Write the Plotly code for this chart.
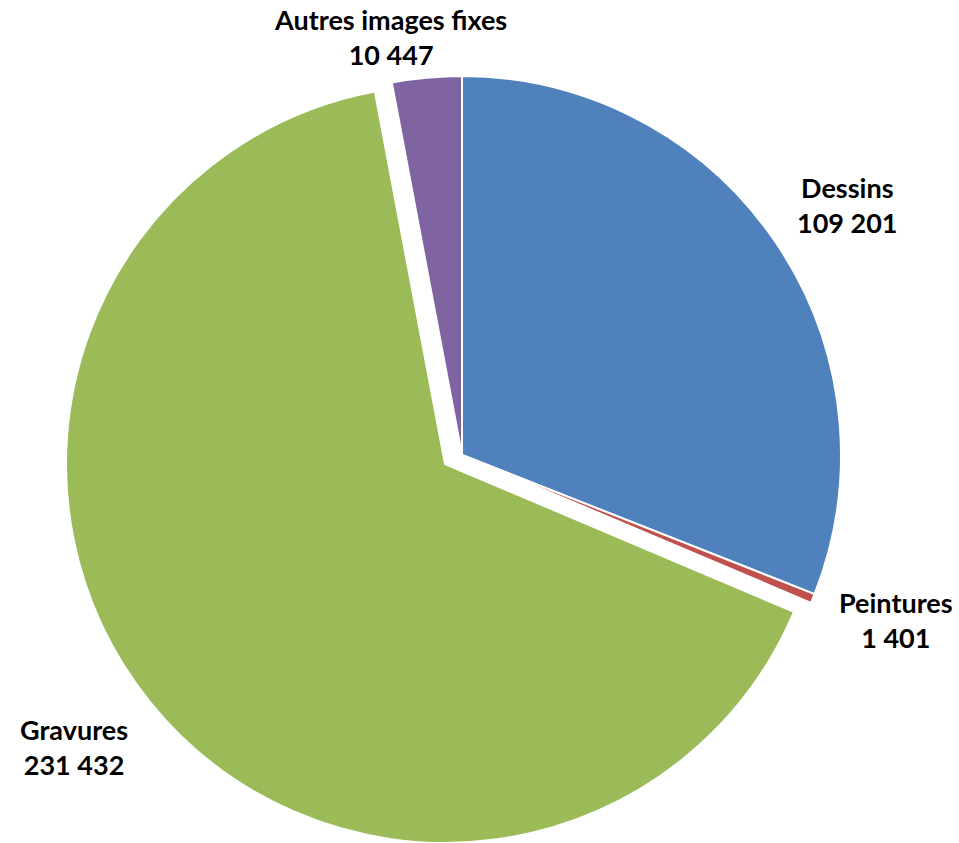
import plotly.graph_objects as go

# ---- data ----
categories = ["Dessins", "Peintures", "Gravures", "Autres images fixes"]
values = [109201, 1401, 231432, 10447]
colors = ["#4F81BD", "#C0504D", "#9BBB59", "#8064A2"]
pulled = [False, False, True, False]

# ---- layout geometry (screen pixels) ----
W, H = 959, 843
R = 379
CENTER_MAIN = (462, 455)
CENTER_PULLED = (445, 464)
label_pos = [(847, 205), (896, 620), (74, 747), (390, 37)]


def domain(center):
    cx, cy = center
    return dict(x=[max(0.0, (cx - R) / W), min(1.0, (cx + R) / W)],
                y=[max(0.0, 1 - (cy + R) / H), min(1.0, 1 - (cy - R) / H)])


def fmt(v):
    return f"{v:,}".replace(",", " ")


fig = go.Figure()

for is_pulled_trace, center in [(False, CENTER_MAIN), (True, CENTER_PULLED)]:
    cols = [c if p == is_pulled_trace else "rgba(0,0,0,0)" for c, p in zip(colors, pulled)]
    widths = [2 if p == is_pulled_trace else 0 for p in pulled]
    fig.add_trace(go.Pie(
        labels=categories,
        values=values,
        sort=False,
        direction="clockwise",
        rotation=0,
        marker=dict(colors=cols, line=dict(color="white", width=widths)),
        textinfo="none",
        hoverinfo="label+value" if not is_pulled_trace else "skip",
        domain=domain(center),
        showlegend=False,
    ))

for cat, val, (px, py) in zip(categories, values, label_pos):
    fig.add_annotation(
        x=px / W, y=1 - py / H, xref="paper", yref="paper",
        text=f"<b>{cat}<br>{fmt(val)}</b>",
        showarrow=False, xanchor="center", yanchor="middle",
        font=dict(family="Lato", size=27, color="#000000"),
        align="center",
    )

fig.update_layout(
    width=W, height=H,
    margin=dict(l=0, r=0, t=0, b=0),
    paper_bgcolor="white", plot_bgcolor="white",
    showlegend=False,
)

fig.write_html(
    "out.html",
    config={"displayModeBar": False},
    post_script="document.body.style.margin='0';document.body.style.overflow='hidden';",
)
